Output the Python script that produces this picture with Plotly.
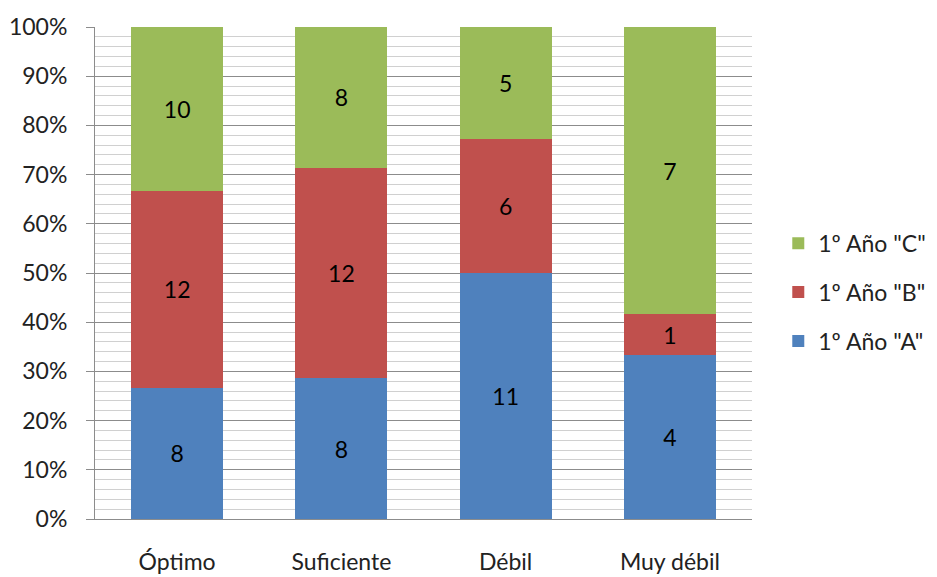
import plotly.graph_objects as go

categories = ["Óptimo", "Suficiente", "Débil", "Muy débil"]
series_names = ['1º Año "A"', '1º Año "B"', '1º Año "C"']
values_a = [8, 8, 11, 4]
values_b = [12, 12, 6, 1]
values_c = [10, 8, 5, 7]
colors = ["#4F81BD", "#C0504D", "#9BBB59"]
ranks = [3, 2, 1]

FS = 23
fig = go.Figure()
for name, vals, col, rk in zip(series_names, [values_a, values_b, values_c], colors, ranks):
    fig.add_trace(go.Bar(
        x=categories, y=vals, name=name, legendgroup=name, legendrank=rk,
        marker=dict(color=col, line=dict(width=0)),
        text=[str(v) for v in vals], textposition="inside",
        insidetextanchor="middle", textangle=0,
        textfont=dict(color="#000000", size=FS, family="Lato"),
        hoverinfo="skip",
    ))

fig.update_layout(
    width=937, height=577,
    margin=dict(l=95, r=185, t=27, b=58, autoexpand=False),
    barmode="stack", barnorm="percent", bargap=0.44,
    paper_bgcolor="white", plot_bgcolor="white",
    font=dict(family="Lato", size=FS, color="#222222"),
    legend=dict(
        traceorder="grouped", tracegroupgap=16,
        x=1.04, xanchor="left", y=0.461, yanchor="middle",
        font=dict(size=FS, family="Lato", color="#222222"),
        itemwidth=30, bgcolor="rgba(0,0,0,0)",
    ),
    showlegend=True,
)

fig.update_yaxes(
    range=[0, 100], dtick=10, ticksuffix="%",
    showgrid=True, gridcolor="#8C8C8C", gridwidth=1,
    minor=dict(dtick=2, showgrid=True, gridcolor="#D0D0D0", gridwidth=1),
    ticks="outside", ticklen=8, tickcolor="#8C8C8C",
    showline=True, linecolor="#8C8C8C", linewidth=1,
    zeroline=False, ticklabelstandoff=14, automargin=False,
    tickfont=dict(size=FS, family="Lato", color="#222222"),
)
fig.update_xaxes(
    showline=True, linecolor="#8C8C8C", linewidth=1,
    ticks="outside", ticklen=22, tickcolor="rgba(0,0,0,0)",
    showgrid=False, zeroline=False, automargin=False,
    tickfont=dict(size=FS, family="Lato", color="#222222"),
)

fig.write_html("out.html")
